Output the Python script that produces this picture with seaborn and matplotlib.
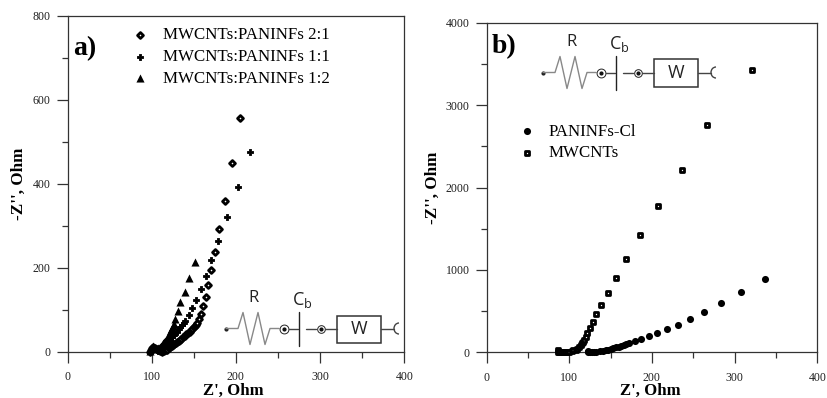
import matplotlib
matplotlib.use("Agg")
import matplotlib.pyplot as plt
from matplotlib.patches import Arc
from matplotlib.ticker import MultipleLocator
import pandas as pd
import seaborn as sns

sns.set_theme(style="ticks")
plt.rcParams['font.family'] = ['Liberation Serif', 'DejaVu Sans']
plt.rcParams['text.color'] = 'black'
plt.rcParams['axes.labelcolor'] = 'black'

# Panel a
a21_x = [98, 99, 100, 102, 104, 106, 108, 110, 112, 115, 117, 118, 120, 122, 124, 125, 127, 129, 130, 132, 134, 135, 137, 139, 141, 143, 145, 147, 148, 150, 151, 153, 154, 156, 159, 161, 164, 167, 171, 175, 180, 187, 195, 205]
a21_y = [0, 4, 8, 11, 9, 6, 3, 1, 0, 1, 3, 5, 8, 11, 13, 15, 18, 20, 22, 26, 28, 30, 34, 37, 41, 44, 48, 52, 54, 58, 61, 64, 68, 77, 90, 109, 131, 159, 195, 238, 292, 360, 450, 556]
a11_x = [99, 100, 102, 104, 106, 108, 110, 112, 114, 115, 117, 118, 120, 122, 124, 126, 128, 130, 132, 134, 136, 138, 140, 144, 148, 153, 159, 165, 171, 179, 190, 202, 217]
a11_y = [1, 6, 11, 8, 3, 2, 5, 8, 10, 12, 15, 18, 24, 29, 34, 39, 44, 48, 53, 58, 64, 69, 74, 87, 103, 124, 149, 180, 218, 264, 320, 392, 477]
a12_x = [98, 100, 102, 104, 106, 108, 109, 110, 111, 112, 113, 114, 115, 116, 117, 118, 119, 120, 121, 122, 123, 124, 125, 126, 128, 131, 134, 139, 144.5, 152]
a12_y = [2, 8, 13, 9, 6, 9, 10, 12, 14, 16, 18, 20, 23, 25, 28, 30, 33, 37, 41, 46, 51, 56, 61, 66, 79, 97, 118, 143, 176, 214]

# Panel b
pani_x = [122.5, 123, 125, 127, 130, 133, 137, 141, 144, 147.5, 150, 153.5, 157, 160, 163, 166, 169, 172.5, 179, 187, 196, 206, 218, 231, 246, 263, 284, 308, 337]
pani_y = [12, 3, 0, 1, 2, 5, 10, 16, 24, 32, 40, 49, 60, 69, 79, 89, 99, 109, 133, 162, 194, 231, 279, 336, 405, 493, 595, 732, 890]
cnt_x = [87, 87, 88, 90, 92, 95, 97, 100, 103, 105, 108, 110, 112, 114, 115, 117, 118, 120, 122, 125, 129, 133, 139, 147, 156, 169, 186, 207.5, 237, 266.6, 320.6]
cnt_y = [22, 8, 1, 0, 0, 2, 4, 8, 16, 22, 32, 46, 65, 88, 109, 128, 146, 190, 239, 295, 368, 465, 578, 724, 906, 1133, 1420, 1776, 2216, 2758, 3430]

labels_a = ['MWCNTs:PANINFs 2:1', 'MWCNTs:PANINFs 1:1', 'MWCNTs:PANINFs 1:2']
labels_b = ['PANINFs-Cl', 'MWCNTs']
x_label = "Z', Ohm"
y_label = "-Z'', Ohm"

fig = plt.figure(figsize=(8.27, 3.98), dpi=100)
W, H = 827, 398


def make_axes(l, r, t, b):
    return fig.add_axes([l / W, 1 - b / H, (r - l) / W, (b - t) / H])


ax_a = make_axes(67.5, 404.3, 16, 351.7)
ax_b = make_axes(486.5, 817.3, 22.7, 352.3)


def series(ax, xs, ys, label, marker, size, face='black', lw=0.0):
    df = pd.DataFrame({'x': xs, 'y': ys})
    sns.scatterplot(data=df, x='x', y='y', ax=ax, marker=marker, s=size, color=face,
                    edgecolor='black', linewidth=lw, label=label, clip_on=False, zorder=3)


series(ax_a, a21_x, a21_y, labels_a[0], 'D', 9, 'white', 2.0)
series(ax_a, a11_x, a11_y, labels_a[1], 'P', 24, 'black', 0.6)
series(ax_a, a12_x, a12_y, labels_a[2], '^', 34)
series(ax_b, pani_x, pani_y, labels_b[0], 'o', 26)
series(ax_b, cnt_x, cnt_y, labels_b[1], 's', 12, 'white', 2.0)

for ax, ymax, ymaj, ymin, ylx, xlx in ((ax_a, 800, 200, 100, -0.120, 0.491),
                                       (ax_b, 4000, 1000, 500, -0.138, 0.494)):
    ax.set_xlim(0, 400)
    ax.set_ylim(0, ymax)
    ax.xaxis.set_major_locator(MultipleLocator(100))
    ax.xaxis.set_minor_locator(MultipleLocator(50))
    ax.yaxis.set_major_locator(MultipleLocator(ymaj))
    ax.yaxis.set_minor_locator(MultipleLocator(ymin))
    ax.tick_params(which='major', direction='out', length=8, width=0.9, color='#333333',
                   labelsize=8.6, labelcolor='#222222')
    ax.tick_params(which='minor', direction='out', length=4, width=0.9, color='#333333')
    ax.tick_params(axis='x', which='major', pad=6)
    ax.tick_params(axis='y', which='major', pad=4.2)
    for sp in ax.spines.values():
        sp.set_linewidth(0.9)
        sp.set_color('#333333')
    ax.set_xlabel(x_label, fontsize=12.1, fontweight='bold')
    ax.set_ylabel(y_label, fontsize=12.3, fontweight='bold')
    ax.yaxis.set_label_coords(ylx, 0.5)
    ax.xaxis.set_label_coords(xlx, -0.094)

leg_a = ax_a.legend(loc='upper left', bbox_to_anchor=(0.165, 0.966), frameon=False, fontsize=12.2,
                    labelspacing=0.33, handletextpad=0.35, borderaxespad=0, borderpad=0)
leg_b = ax_b.legend(loc='upper left', bbox_to_anchor=(0.071, 0.694), frameon=False, fontsize=12.2,
                    labelspacing=0.33, handletextpad=0.3, borderaxespad=0, borderpad=0)

ax_a.text(0.018, 0.884, 'a)', transform=ax_a.transAxes, fontsize=20, fontweight='bold')
ax_b.text(0.016, 0.908, 'b)', transform=ax_b.transAxes, fontsize=20, fontweight='bold')


def circuit(x0, y0):
    """Equivalent-circuit sketch, given its left end in figure pixels."""
    def line(xs, ys, c='#444444', lw=1.0):
        fig.add_artist(plt.Line2D([(x0 + v) / W for v in xs], [1 - (y0 + v) / H for v in ys],
                                  color=c, lw=lw))

    def dot(dx, r=4.4):
        fig.add_artist(plt.Line2D([(x0 + dx) / W], [1 - y0 / H], marker='o', ms=r * 1.45, mfc='white',
                                  mec='#222222', mew=0.7))
        fig.add_artist(plt.Line2D([(x0 + dx) / W], [1 - y0 / H], marker='o', ms=2.0, color='#111111'))

    def label(dx, dy, s, fs=12):
        fig.text((x0 + dx) / W, 1 - (y0 + dy) / H, s, fontsize=fs, family='Open Sans',
                 ha='center', va='center', color='#222222')

    fig.add_artist(plt.Line2D([x0 / W], [1 - y0 / H], marker='o', ms=2, color='#222222'))
    line([0, 12, 17, 24, 32, 39, 44, 53], [0, 0, -16, 16, -16, 16, 0, 0], c='#888888')
    dot(58)
    line([63, 72], [0, 0])
    line([72.5, 72.5], [-17, 17], c='#222222')
    line([80, 90], [0, 0])
    dot(95, 3.8)
    line([99, 111], [0, 0])
    fig.add_artist(plt.Rectangle(((x0 + 111) / W, 1 - (y0 + 14) / H), 44 / W, 27 / H, fill=False,
                                 ec='#333333', lw=1.1, transform=fig.transFigure))
    line([155, 168], [0, 0])
    label(28, -30, 'R')
    label(76, -29, 'C$_{\\mathregular{b}}$', 13)
    label(133, 0.5, 'W', 13)
    fig.add_artist(Arc((x0 + 173, H - y0), 10, 11, theta1=90, theta2=270, color='#444444', lw=1.0,
                       transform=None))


circuit(226, 328.5)
circuit(543, 72.5)

fig.savefig('out.png', dpi=100)
